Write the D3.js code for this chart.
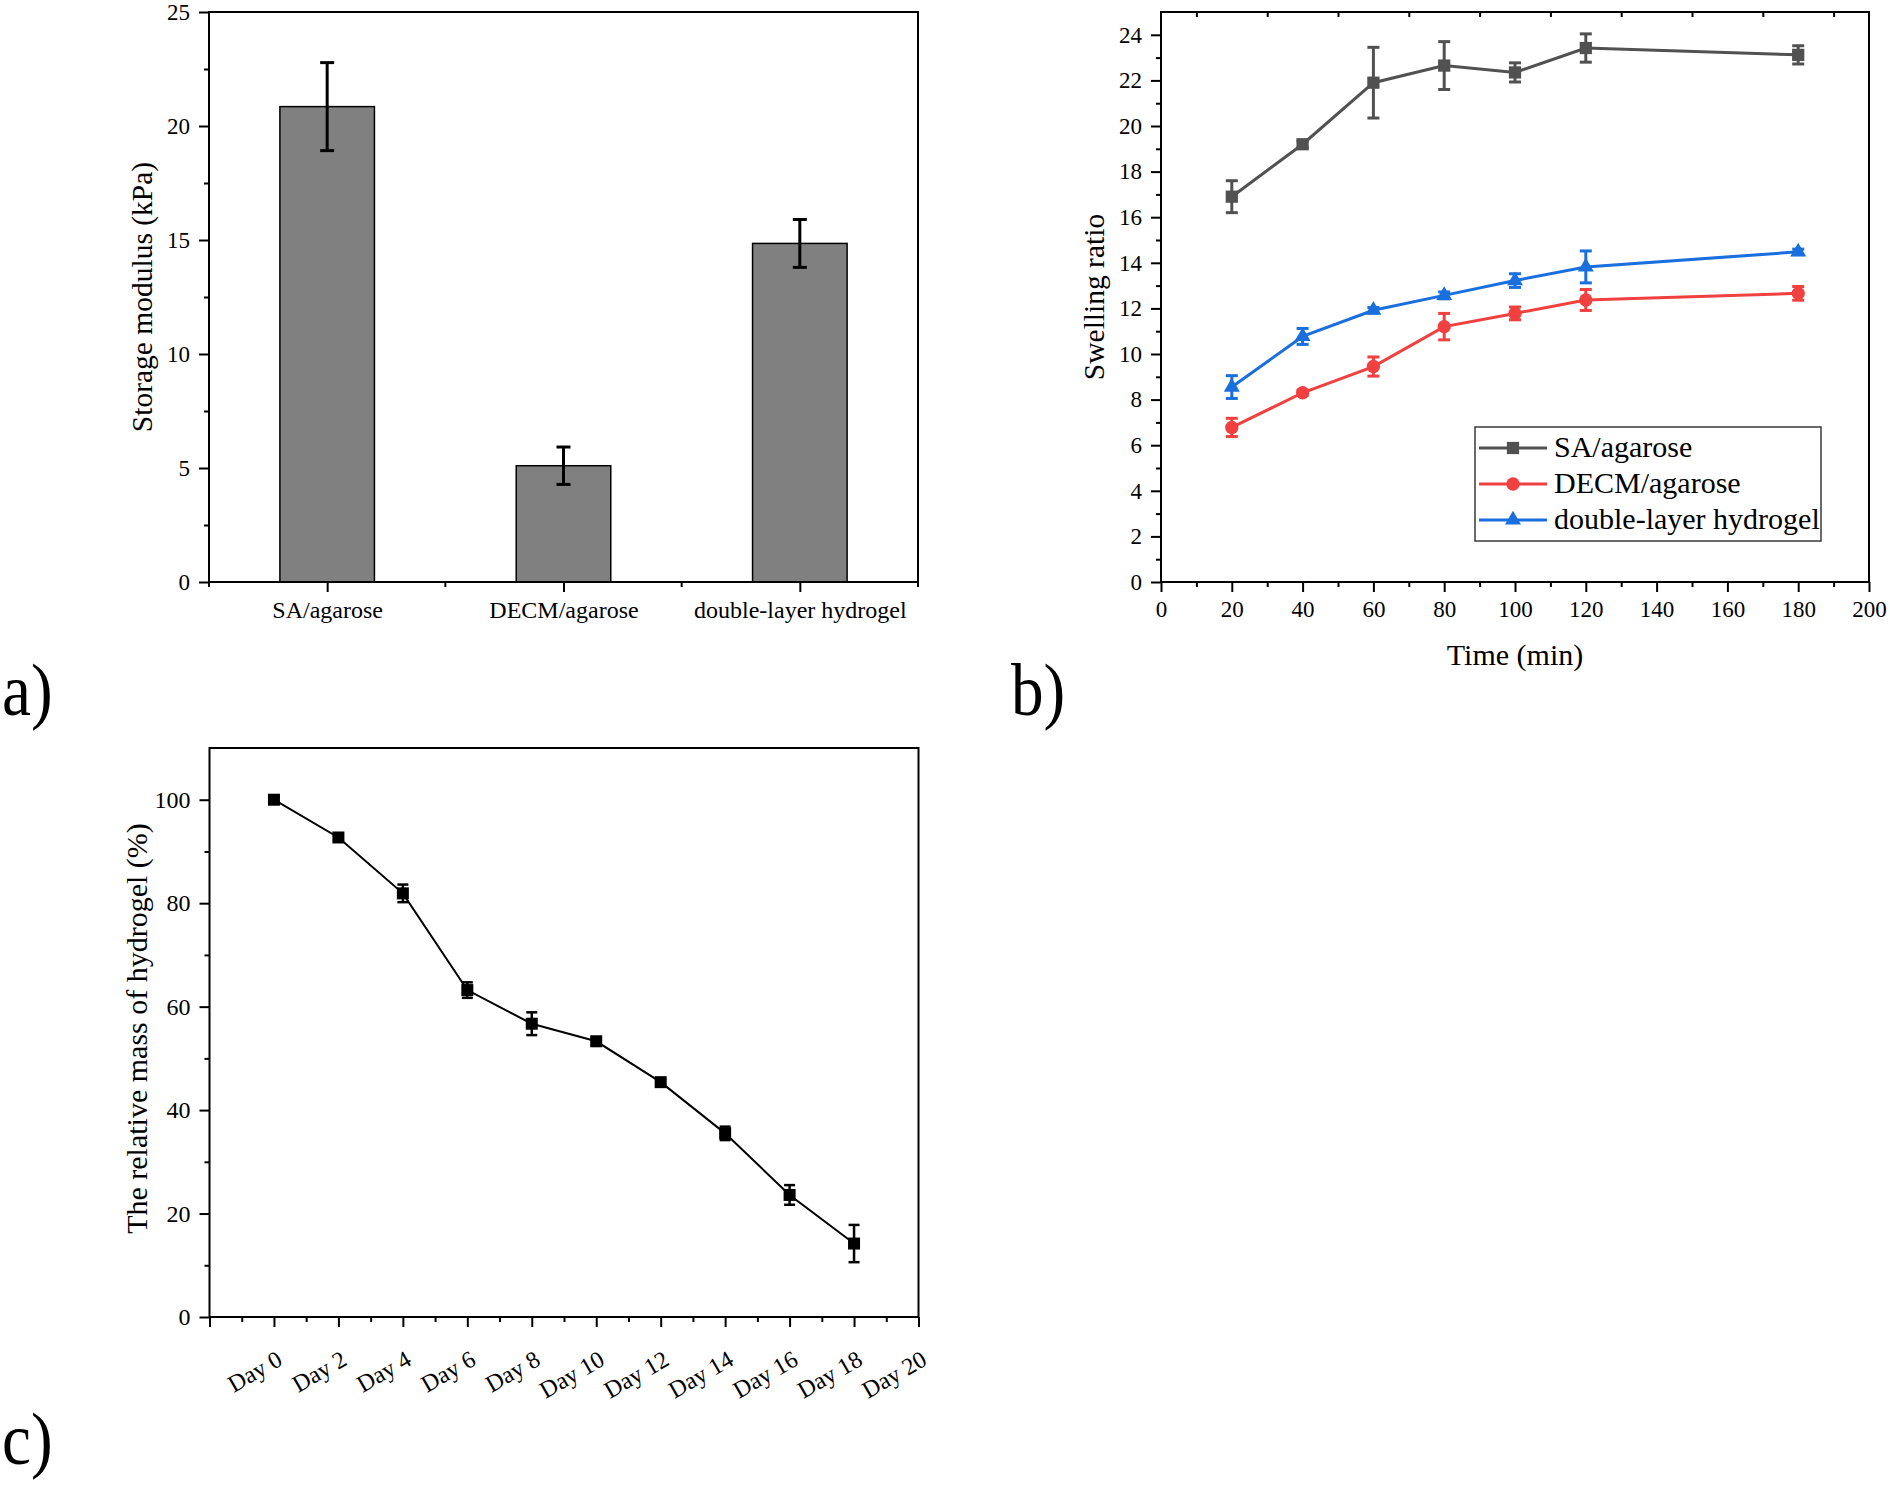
<!DOCTYPE html>
<html>
<head>
<meta charset="utf-8">
<script src="https://cdn.jsdelivr.net/npm/d3@7"></script>
<style>
  body { margin: 0; background: #fff; }
</style>
</head>
<body>
<div id="chart"></div>
<script>
var svgWidth = 1890;
var svgHeight = 1487;
var chartFont = '"Liberation Serif", "Times New Roman", serif';

// a) storage modulus
var barCategories = ["SA/agarose", "DECM/agarose", "double-layer hydrogel"];
var barValues = [20.85, 5.1, 14.85];
var barErrors = [1.93, 0.82, 1.05];

// b) swelling ratio
var swellTimes = [20, 40, 60, 80, 100, 120, 180];
var saSwell = [16.9, 19.2, 21.9, 22.65, 22.35, 23.42, 23.12];
var saSwellErr = [0.7, 0.15, 1.55, 1.05, 0.42, 0.62, 0.4];
var decmSwell = [6.78, 8.3, 9.45, 11.2, 11.78, 12.37, 12.66];
var decmSwellErr = [0.4, 0.12, 0.42, 0.58, 0.28, 0.46, 0.3];
var doubleSwell = [8.55, 10.77, 11.92, 12.57, 13.22, 13.82, 14.48];
var doubleSwellErr = [0.5, 0.35, 0.12, 0.15, 0.3, 0.7, 0.12];
var seriesNames = ["SA/agarose", "DECM/agarose", "double-layer hydrogel"];
var seriesColors = ["#515151", "#F14040", "#1A6FDF"];

// c) degradation
var days = [0, 2, 4, 6, 8, 10, 12, 14, 16, 18];
var relMass = [100, 92.7, 81.9, 63.2, 56.7, 53.3, 45.4, 35.5, 23.6, 14.2];
var relMassErr = [0.4, 0.6, 1.7, 1.5, 2.2, 0.8, 0.5, 1.3, 1.9, 3.6];

var svg = d3.select("#chart")
  .append("svg")
  .attr("width", svgWidth)
  .attr("height", svgHeight);

svg.append("rect")
  .attr("width", svgWidth)
  .attr("height", svgHeight)
  .attr("fill", "#fff");

// tick styling shared by all panels
function styleAxis(axisGroup, fontSize) {
  axisGroup.attr("font-family", chartFont).attr("font-size", fontSize);
  axisGroup.select(".domain").remove();
  axisGroup.selectAll("line").attr("stroke", "#000").attr("stroke-width", 2);
  axisGroup.selectAll("text").attr("fill", "#000");
  return axisGroup;
}

function drawFrame(g, box) {
  g.append("rect")
    .attr("x", box.left)
    .attr("y", box.top)
    .attr("width", box.right - box.left)
    .attr("height", box.bottom - box.top)
    .attr("fill", "none")
    .attr("stroke", "#000")
    .attr("stroke-width", 2);
}

function drawErrorBars(g, xs, vals, errs, x, y, color, capW, lw) {
  var eb = g.append("g").attr("stroke", color).attr("stroke-width", lw);
  vals.forEach(function(v, i) {
    var cx = x(xs[i]);
    eb.append("line")
      .attr("x1", cx).attr("x2", cx)
      .attr("y1", y(v - errs[i])).attr("y2", y(v + errs[i]));
    eb.append("line")
      .attr("x1", cx - capW / 2).attr("x2", cx + capW / 2)
      .attr("y1", y(v + errs[i])).attr("y2", y(v + errs[i]));
    eb.append("line")
      .attr("x1", cx - capW / 2).attr("x2", cx + capW / 2)
      .attr("y1", y(v - errs[i])).attr("y2", y(v - errs[i]));
  });
}

function yTitle(g, text, cx, cy, size) {
  g.append("text")
    .attr("transform", `translate(${cx}, ${cy}) rotate(-90)`)
    .attr("text-anchor", "middle")
    .attr("dy", "0.35em")
    .attr("font-family", chartFont)
    .attr("font-size", size)
    .text(text);
}

function panelLabel(text, x, y) {
  svg.append("text")
    .attr("transform", `translate(${x}, ${y}) scale(0.88, 1)`)
    .attr("font-family", chartFont)
    .attr("font-size", 74)
    .text(text);
}

// ---------------- a) bar chart ----------------
var aBox = {left: 209, right: 918, top: 12, bottom: 582};
var gA = svg.append("g");

var xA = d3.scalePoint()
  .domain(barCategories)
  .range([aBox.left, aBox.right])
  .padding(0.5);
var yA = d3.scaleLinear().domain([0, 25]).range([aBox.bottom, aBox.top]);

var barW = xA.step() * 0.4;
gA.selectAll(".bar")
  .data(barValues)
  .enter()
  .append("rect")
  .attr("x", (d, i) => xA(barCategories[i]) - barW / 2)
  .attr("y", d => yA(d))
  .attr("width", barW)
  .attr("height", d => yA(0) - yA(d))
  .attr("fill", "#808080")
  .attr("stroke", "#000")
  .attr("stroke-width", 1.5);

drawErrorBars(gA, barCategories, barValues, barErrors, xA, yA, "#000", 14, 3);

styleAxis(gA.append("g")
  .attr("transform", `translate(${aBox.left},0)`)
  .call(d3.axisLeft(yA).tickValues(d3.range(0, 26, 5)).tickSize(10).tickPadding(9)), 23);
styleAxis(gA.append("g")
  .attr("transform", `translate(${aBox.left},0)`)
  .call(d3.axisLeft(yA).tickValues(d3.range(2.5, 25, 5)).tickSize(5).tickFormat("")), 23);
styleAxis(gA.append("g")
  .attr("transform", `translate(0,${aBox.bottom})`)
  .call(d3.axisBottom(xA).tickSize(10).tickPadding(9)), 24);

// short ticks between the categories
gA.selectAll(".catsep")
  .data(d3.range(barCategories.length + 1))
  .enter()
  .append("line")
  .attr("x1", k => xA(barCategories[0]) - xA.step() / 2 + k * xA.step())
  .attr("x2", k => xA(barCategories[0]) - xA.step() / 2 + k * xA.step())
  .attr("y1", aBox.bottom)
  .attr("y2", aBox.bottom + 5)
  .attr("stroke", "#000")
  .attr("stroke-width", 2);

drawFrame(gA, aBox);
yTitle(gA, "Storage modulus (kPa)", 142, (aBox.top + aBox.bottom) / 2, 29.5);
panelLabel("a)", 2, 715);

// ---------------- b) swelling ratio ----------------
var bBox = {left: 1161, right: 1869, top: 12, bottom: 582};
var gB = svg.append("g");

var xB = d3.scaleLinear().domain([0, 200]).range([bBox.left, bBox.right]);
var yB = d3.scaleLinear().domain([0, 25]).range([bBox.bottom, bBox.top]);

styleAxis(gB.append("g")
  .attr("transform", `translate(${bBox.left},0)`)
  .call(d3.axisLeft(yB).tickValues(d3.range(0, 25, 2)).tickSize(10).tickPadding(9)), 23);
styleAxis(gB.append("g")
  .attr("transform", `translate(${bBox.left},0)`)
  .call(d3.axisLeft(yB).tickValues(d3.range(1, 25, 2)).tickSize(5).tickFormat("")), 23);
styleAxis(gB.append("g")
  .attr("transform", `translate(0,${bBox.bottom})`)
  .call(d3.axisBottom(xB).tickValues(d3.range(0, 201, 20)).tickSize(10).tickPadding(9)), 23);
styleAxis(gB.append("g")
  .attr("transform", `translate(0,${bBox.bottom})`)
  .call(d3.axisBottom(xB).tickValues(d3.range(10, 200, 20)).tickSize(5).tickFormat("")), 23);
// inward ticks on the top edge
styleAxis(gB.append("g")
  .attr("transform", `translate(0,${bBox.top})`)
  .call(d3.axisBottom(xB).tickValues(d3.range(10, 200, 20)).tickSize(5).tickFormat("")), 23);

var swellSeries = [
  {name: seriesNames[0], vals: saSwell, errs: saSwellErr, color: seriesColors[0], shape: d3.symbolSquare, size: 150},
  {name: seriesNames[1], vals: decmSwell, errs: decmSwellErr, color: seriesColors[1], shape: d3.symbolCircle, size: 140},
  {name: seriesNames[2], vals: doubleSwell, errs: doubleSwellErr, color: seriesColors[2], shape: d3.symbolTriangle, size: 110}
];

var swellLine = d3.line()
  .x((d, i) => xB(swellTimes[i]))
  .y(d => yB(d));

swellSeries.forEach(function(s) {
  gB.append("path")
    .datum(s.vals)
    .attr("d", swellLine)
    .attr("fill", "none")
    .attr("stroke", s.color)
    .attr("stroke-width", 3);
  drawErrorBars(gB, swellTimes, s.vals, s.errs, xB, yB, s.color, 12, 3);
  gB.selectAll(null)
    .data(s.vals)
    .enter()
    .append("path")
    .attr("d", d3.symbol().type(s.shape).size(s.size))
    .attr("transform", (d, i) => `translate(${xB(swellTimes[i])},${yB(d)})`)
    .attr("fill", s.color);
});

drawFrame(gB, bBox);

// legend
var legend = gB.append("g");
legend.append("rect")
  .attr("x", 1475)
  .attr("y", 427)
  .attr("width", 346)
  .attr("height", 114)
  .attr("fill", "#fff")
  .attr("stroke", "#3a3a3a")
  .attr("stroke-width", 1.5);

swellSeries.forEach(function(s, i) {
  var ly = 448 + i * 36;
  legend.append("line")
    .attr("x1", 1479).attr("x2", 1547)
    .attr("y1", ly).attr("y2", ly)
    .attr("stroke", s.color)
    .attr("stroke-width", 3);
  legend.append("path")
    .attr("d", d3.symbol().type(s.shape).size(s.size))
    .attr("transform", `translate(1513,${ly})`)
    .attr("fill", s.color);
  legend.append("text")
    .attr("x", 1554)
    .attr("y", ly)
    .attr("dy", "0.3em")
    .attr("font-family", chartFont)
    .attr("font-size", 30)
    .text(s.name);
});

yTitle(gB, "Swelling ratio", 1094, (bBox.top + bBox.bottom) / 2, 29.5);
gB.append("text")
  .attr("x", (bBox.left + bBox.right) / 2)
  .attr("y", 665)
  .attr("text-anchor", "middle")
  .attr("font-family", chartFont)
  .attr("font-size", 30)
  .text("Time (min)");
panelLabel("b)", 1011, 715);

// ---------------- c) degradation ----------------
var cBox = {left: 209.5, right: 918.5, top: 748, bottom: 1317};
var gC = svg.append("g");

var xC = d3.scaleLinear().domain([-2, 20]).range([cBox.left, cBox.right]);
var yC = d3.scaleLinear().domain([0, 110]).range([cBox.bottom, cBox.top]);

styleAxis(gC.append("g")
  .attr("transform", `translate(${cBox.left},0)`)
  .call(d3.axisLeft(yC).tickValues(d3.range(0, 101, 20)).tickSize(10).tickPadding(9)), 24);
styleAxis(gC.append("g")
  .attr("transform", `translate(${cBox.left},0)`)
  .call(d3.axisLeft(yC).tickValues(d3.range(10, 100, 20)).tickSize(5).tickFormat("")), 24);
styleAxis(gC.append("g")
  .attr("transform", `translate(0,${cBox.bottom})`)
  .call(d3.axisBottom(xC).tickValues(d3.range(-2, 21, 2)).tickSize(10).tickFormat("")), 22);
styleAxis(gC.append("g")
  .attr("transform", `translate(0,${cBox.bottom})`)
  .call(d3.axisBottom(xC).tickValues(d3.range(-1, 20, 2)).tickSize(5).tickFormat("")), 22);

// rotated day labels
gC.selectAll(".daylabel")
  .data(d3.range(0, 21, 2))
  .enter()
  .append("text")
  .attr("transform", d => `translate(${xC(d) + 10},${cBox.bottom + 47}) rotate(-30)`)
  .attr("text-anchor", "end")
  .attr("font-family", chartFont)
  .attr("font-size", 24)
  .text(d => "Day " + d);

var massLine = d3.line()
  .x((d, i) => xC(days[i]))
  .y(d => yC(d));

gC.append("path")
  .datum(relMass)
  .attr("d", massLine)
  .attr("fill", "none")
  .attr("stroke", "#000")
  .attr("stroke-width", 2);

drawErrorBars(gC, days, relMass, relMassErr, xC, yC, "#000", 11, 2.5);

gC.selectAll(".mpt")
  .data(relMass)
  .enter()
  .append("rect")
  .attr("x", (d, i) => xC(days[i]) - 6)
  .attr("y", d => yC(d) - 6)
  .attr("width", 12)
  .attr("height", 12)
  .attr("fill", "#000");

drawFrame(gC, cBox);
yTitle(gC, "The relative mass of hydrogel (%)", 136, (cBox.top + cBox.bottom) / 2 - 4, 30);
panelLabel("c)", 2, 1464);
</script>
</body>
</html>
